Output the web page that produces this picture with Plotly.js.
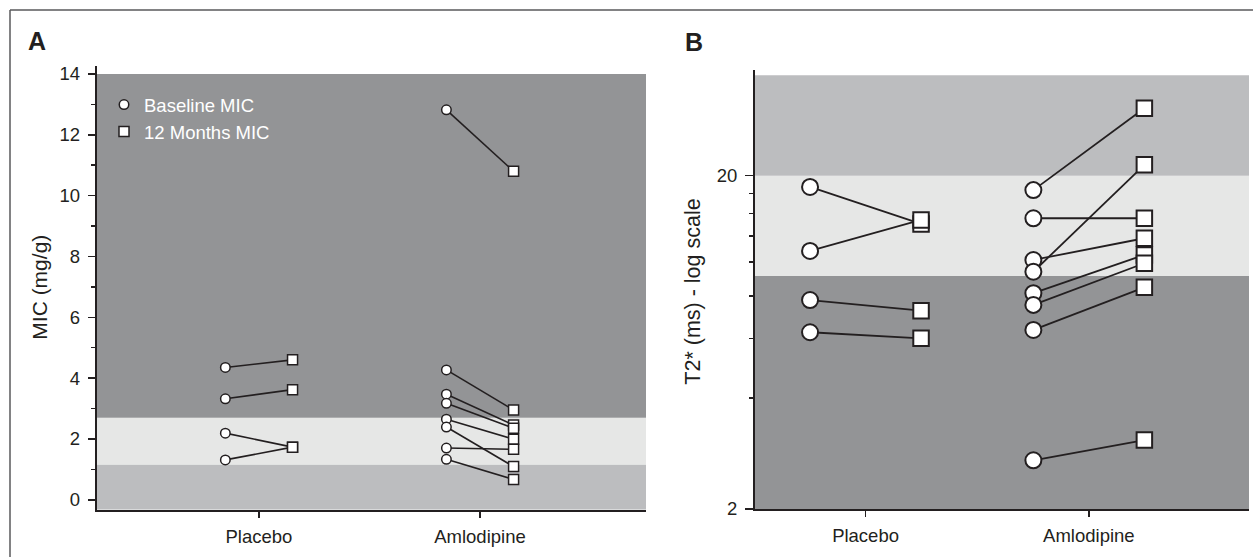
<!DOCTYPE html>
<html>
<head>
<meta charset="utf-8">
<script src="https://cdn.plot.ly/plotly-3.0.1.min.js"></script>
<style>html,body{margin:0;padding:0;background:#fff;}#chart{width:1253px;height:557px;}</style>
</head>
<body>
<div id="chart"></div>
<script>
// ---------- data ----------
const groups = ['Placebo', 'Amlodipine'];
// Panel A: MIC (mg/g)
const micPlaceboBaseline = [4.35, 3.32, 2.19, 1.31];
const micPlacebo12m      = [4.60, 3.62, 1.73, 1.73];
const micAmloBaseline    = [12.82, 4.27, 3.47, 3.17, 2.65, 2.39, 1.70, 1.33];
const micAmlo12m         = [10.80, 2.95, 2.46, 2.35, 1.99, 1.09, 1.66, 0.67];
// Panel B: T2* (ms)
const t2PlaceboBaseline = [18.5, 11.89, 8.47, 6.78];
const t2Placebo12m      = [14.33, 14.73, 7.87, 6.50];
const t2AmloBaseline    = [18.1, 14.9, 11.17, 10.3, 8.88, 8.19, 6.89, 2.80];
const t2Amlo12m         = [31.85, 14.9, 12.98, 21.55, 11.57, 10.92, 9.25, 3.22];
// Axis ticks and reference bands
const micTicks = [0, 2, 4, 6, 8, 10, 12, 14];
const micMinorTicks = [1, 3, 5, 7, 9, 11, 13];
const t2Ticks = [2, 20];
const t2MinorTicks = [4.3, 6.5, 8.7, 11, 13.2, 15.4, 17.7];
const micBands = [1.16, 2.7, 14];   // band limits (mg/g)
const t2Bands = [2, 10, 20, 40];     // band limits (ms)
const legendNames = ['Baseline MIC', '12 Months MIC'];

// ---------- styling ----------
const W = 1253, H = 557;
const ink = '#231f20';
const cDark = '#939496', cMid = '#bcbdbf', cLight = '#e6e7e6';
const font = 'Liberation Sans, Arial, Helvetica, sans-serif';
const offA = 0.152, offB = 0.2485;
const micRange = [-0.33, 14.27];
const t2Range = [Math.log10(2), 1.618];

function pairLines(gi, off, base, after, xa, ya, lw) {
  const x = [], y = [];
  base.forEach((v, i) => { x.push(gi - off, gi + off, null); y.push(v, after[i], null); });
  return {x, y, xaxis: xa, yaxis: ya, mode: 'lines', line: {color: ink, width: lw}, showlegend: false, hoverinfo: 'skip'};
}
function pts(gi, off, vals, xa, ya, symbol, size, lw, name, show) {
  return {x: vals.map(() => gi + off), y: vals, xaxis: xa, yaxis: ya, mode: 'markers', name: name,
    showlegend: show, legendgroup: name,
    marker: {symbol: symbol, size: size, color: '#ffffff', line: {color: ink, width: lw}}};
}

const traces = [
  pairLines(1, offA, micPlaceboBaseline, micPlacebo12m, 'x', 'y', 1.6),
  pairLines(2, offA, micAmloBaseline, micAmlo12m, 'x', 'y', 1.6),
  pairLines(1, offB, t2PlaceboBaseline, t2Placebo12m, 'x2', 'y2', 1.8),
  pairLines(2, offB, t2AmloBaseline, t2Amlo12m, 'x2', 'y2', 1.8),
  pts(1, -offA, micPlaceboBaseline, 'x', 'y', 'circle', 9.5, 1.5, legendNames[0], true),
  pts(2, -offA, micAmloBaseline, 'x', 'y', 'circle', 9.5, 1.5, legendNames[0], false),
  pts(1, offA, micPlacebo12m, 'x', 'y', 'square', 10, 1.5, legendNames[1], true),
  pts(2, offA, micAmlo12m, 'x', 'y', 'square', 10, 1.5, legendNames[1], false),
  pts(1, -offB, t2PlaceboBaseline, 'x2', 'y2', 'circle', 16, 2, 'b', false),
  pts(2, -offB, t2AmloBaseline, 'x2', 'y2', 'circle', 16, 2, 'b', false),
  pts(1, offB, t2Placebo12m, 'x2', 'y2', 'square', 15.5, 2, 'b', false),
  pts(2, offB, t2Amlo12m, 'x2', 'y2', 'square', 15.5, 2, 'b', false)
];

function fracB(v) { return (Math.log10(v) - t2Range[0]) / (t2Range[1] - t2Range[0]); }

const shapes = [
  {type: 'rect', xref: 'x domain', x0: 0, x1: 1, yref: 'y', y0: micRange[0], y1: micBands[0], fillcolor: cMid, line: {width: 0}, layer: 'below'},
  {type: 'rect', xref: 'x domain', x0: 0, x1: 1, yref: 'y', y0: micBands[0], y1: micBands[1], fillcolor: cLight, line: {width: 0}, layer: 'below'},
  {type: 'rect', xref: 'x domain', x0: 0, x1: 1, yref: 'y', y0: micBands[1], y1: micBands[2], fillcolor: cDark, line: {width: 0}, layer: 'below'},
  {type: 'rect', xref: 'x2 domain', x0: 0, x1: 1, yref: 'y2 domain', y0: fracB(t2Bands[0]), y1: fracB(t2Bands[1]), fillcolor: cDark, line: {width: 0}, layer: 'below'},
  {type: 'rect', xref: 'x2 domain', x0: 0, x1: 1, yref: 'y2 domain', y0: fracB(t2Bands[1]), y1: fracB(t2Bands[2]), fillcolor: cLight, line: {width: 0}, layer: 'below'},
  {type: 'rect', xref: 'x2 domain', x0: 0, x1: 1, yref: 'y2 domain', y0: fracB(t2Bands[2]), y1: fracB(t2Bands[3]), fillcolor: cMid, line: {width: 0}, layer: 'below'},
  // outer frame (left and top edges)
  {type: 'line', xref: 'paper', yref: 'paper', x0: 10 / W, x1: 10 / W, y0: 0, y1: 1 - 10 / H, line: {color: '#58595b', width: 1.5}},
  {type: 'line', xref: 'paper', yref: 'paper', x0: 10 / W, x1: 1, y0: 1 - 10 / H, y1: 1 - 10 / H, line: {color: '#58595b', width: 1.5}}
];

const axBase = {showgrid: false, zeroline: false, showline: true, linecolor: ink, linewidth: 2,
  ticks: 'outside', tickcolor: ink, tickwidth: 1.5, tickfont: {family: font, size: 18.5, color: ink}, fixedrange: true};

const layout = {
  width: W, height: H,
  margin: {l: 0, r: 0, t: 0, b: 0},
  paper_bgcolor: '#ffffff', plot_bgcolor: 'rgba(0,0,0,0)',
  font: {family: font, color: ink, size: 18},
  showlegend: true,
  legend: {x: 104 / W, xanchor: 'left', y: 1 - 86 / H, yanchor: 'top', bgcolor: 'rgba(0,0,0,0)',
    font: {family: font, size: 18.5, color: '#ffffff'}, itemsizing: 'trace', tracegroupgap: 0},
  xaxis: Object.assign({}, axBase, {domain: [96.7 / W, 646 / W], range: [0.266, 2.751],
    tickmode: 'array', tickvals: [1, 2], ticktext: groups, ticklen: 6, ticklabelstandoff: 3}),
  yaxis: Object.assign({}, axBase, {domain: [1 - 509.8 / H, 1 - 65.7 / H], range: micRange,
    tickmode: 'array', tickvals: micTicks, ticklen: 7, ticklabelstandoff: 4,
    minor: {tickmode: 'array', tickvals: micMinorTicks, ticks: 'outside', ticklen: 4, tickcolor: ink, tickwidth: 1.5}}),
  xaxis2: Object.assign({}, axBase, {domain: [755 / W, 1249 / W], range: [0.505, 2.717], anchor: 'y2',
    tickmode: 'array', tickvals: [1, 2], ticktext: groups, ticklen: 6, ticklabelstandoff: 3}),
  yaxis2: Object.assign({}, axBase, {domain: [1 - 509 / H, 1 - 70 / H], type: 'log', range: t2Range, anchor: 'x2',
    tickmode: 'array', tickvals: t2Ticks, ticktext: t2Ticks.map(String), ticklen: 8, ticklabelstandoff: 4,
    minor: {tickmode: 'array', tickvals: t2MinorTicks, ticks: 'outside', ticklen: 4, tickcolor: ink, tickwidth: 1.5}}),
  shapes: shapes,
  annotations: [
    {text: '<b>A</b>', xref: 'paper', yref: 'paper', x: 36.7 / W, y: 1 - 41 / H, xanchor: 'center', yanchor: 'middle',
      showarrow: false, font: {family: font, size: 25, color: ink}},
    {text: '<b>B</b>', xref: 'paper', yref: 'paper', x: 694 / W, y: 1 - 42 / H, xanchor: 'center', yanchor: 'middle',
      showarrow: false, font: {family: font, size: 25, color: ink}},
    {text: 'MIC (mg/g)', xref: 'paper', yref: 'paper', x: 40 / W, y: 1 - 287.7 / H, xanchor: 'center', yanchor: 'middle',
      textangle: -90, showarrow: false, font: {family: font, size: 21, color: ink}},
    {text: 'T2* (ms) - log scale', xref: 'paper', yref: 'paper', x: 693 / W, y: 1 - 291.7 / H, xanchor: 'center', yanchor: 'middle',
      textangle: -90, showarrow: false, font: {family: font, size: 21.5, color: ink}}
  ]
};

Plotly.newPlot('chart', traces, layout, {displayModeBar: false, staticPlot: true});
</script>
</body>
</html>
